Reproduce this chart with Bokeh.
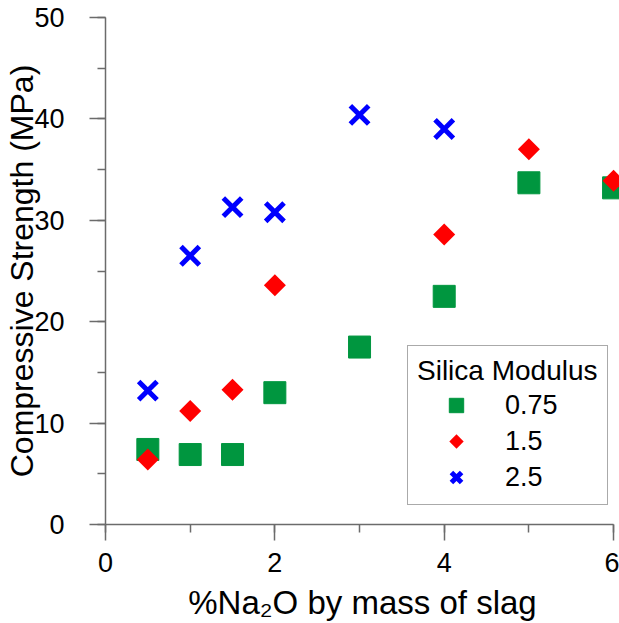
from bokeh.plotting import figure
from bokeh.models import (Range1d, SingleIntervalTicker, Legend, LegendItem,
                          Scatter, CustomJS, ColumnDataSource)
from bokeh.embed import file_html
from bokeh.resources import INLINE

# Compressive strength (MPa) against %Na2O, one series per silica modulus
na2o_075 = [0.5, 1, 1.5, 2, 3, 4, 5, 6]
strength_075 = [7.4, 6.9, 6.9, 13.0, 17.5, 22.5, 33.7, 33.2]

na2o_15 = [0.5, 1, 1.5, 2, 4, 5, 6]
strength_15 = [6.4, 11.2, 13.3, 23.6, 28.6, 37.0, 33.9]

na2o_25 = [0.5, 1, 1.5, 2, 3, 4]
strength_25 = [13.2, 26.5, 31.3, 30.8, 40.4, 39.0]

modulus_labels = ["0.75", "1.5", "2.5"]

FONT = "Liberation Sans"
AXIS_GRAY = "#6b6b6b"
GREEN, RED, BLUE = "#00963f", "#ff0000", "#0000ff"

p = figure(
    width=619, height=623,
    x_range=Range1d(0, 6.07), y_range=Range1d(0, 50),
    output_backend="svg", toolbar_location=None,
    min_border_left=105, min_border_right=0,
    min_border_top=17, min_border_bottom=99,
)
p.outline_line_color = None
p.xgrid.visible = False
p.ygrid.visible = False
p.background_fill_color = "white"
p.border_fill_color = "white"

p.xaxis.ticker = SingleIntervalTicker(interval=2, num_minor_ticks=2)
p.yaxis.ticker = SingleIntervalTicker(interval=10, num_minor_ticks=2)
p.xaxis.bounds = (0, 6)

for ax in (p.xaxis, p.yaxis):
    ax.axis_line_color = AXIS_GRAY
    ax.axis_line_width = 1.5
    ax.major_tick_line_color = AXIS_GRAY
    ax.major_tick_line_width = 1.5
    ax.minor_tick_line_color = AXIS_GRAY
    ax.minor_tick_line_width = 1.5
    ax.major_tick_in = 0
    ax.major_tick_out = 16
    ax.minor_tick_in = 0
    ax.minor_tick_out = 8
    ax.major_label_text_font = FONT
    ax.major_label_text_font_size = "27px"
    ax.major_label_text_color = "black"
    ax.axis_label_text_font = FONT
    ax.axis_label_text_font_style = "normal"
    ax.axis_label_text_color = "black"

p.yaxis.axis_label_text_font_size = "32px"
p.xaxis.axis_label_text_font_size = "33px"
p.yaxis.major_label_standoff = 25
p.yaxis.axis_label_standoff = -9
p.xaxis.major_label_standoff = 12
p.xaxis.axis_label_standoff = 9

p.xaxis.axis_label = "%Na\u2082O by mass of slag"
p.yaxis.axis_label = "Compressive Strength (MPa)"

# Equal-sided diamond marker (a square stood on its corner); drawn the same
# way in the plot and in the legend key.
diamond_js = CustomJS(code="""
export default function(...argv) {
  let ctx = null
  let r = null
  const nums = []
  const visit = (a) => {
    if (a == null) return
    if (typeof a === "number") { nums.push(a); return }
    if (typeof a !== "object") return
    if (typeof a.moveTo === "function") { if (ctx == null) ctx = a; return }
    if (a.ctx != null && typeof a.ctx.moveTo === "function" && ctx == null) ctx = a.ctx
    if (typeof a.r === "number" && r == null) r = a.r
  }
  for (const a of argv) visit(a)
  if (r == null && nums.length > 0) r = nums[nums.length > 1 ? 1 : 0]
  if (ctx == null || r == null) return
  ctx.beginPath()
  ctx.moveTo(0, -r)
  ctx.lineTo(r, 0)
  ctx.lineTo(0, r)
  ctx.lineTo(-r, 0)
  ctx.closePath()
  ctx.fillStyle = "#ff0000"
  ctx.fill()
}
""")

r075 = p.scatter(na2o_075, strength_075, marker="square", size=22,
                 fill_color=GREEN, line_color=GREEN)
src_15 = ColumnDataSource(data=dict(x=na2o_15, y=strength_15))
r15 = p.add_glyph(src_15, Scatter(x="x", y="y", marker="@sqdiamond", size=22,
                                  fill_color=RED, line_color=None,
                                  defs={"@sqdiamond": diamond_js}))
r25 = p.scatter(na2o_25, strength_25, marker="x", size=26, line_width=5,
                line_color=BLUE)

legend = Legend(
    items=[
        LegendItem(label=modulus_labels[0], renderers=[r075]),
        LegendItem(label=modulus_labels[1], renderers=[r15]),
        LegendItem(label=modulus_labels[2], renderers=[r25]),
    ],
    location=(302, 19),
    title="Silica Modulus",
)
legend.title_text_font = FONT
legend.title_text_font_size = "28px"
legend.title_text_font_style = "normal"
legend.title_text_color = "black"
legend.title_standoff = 0
legend.label_text_font = FONT
legend.label_text_font_size = "27px"
legend.label_text_color = "black"
legend.glyph_width = 78
legend.glyph_height = 36
legend.label_height = 36
legend.label_standoff = 10
legend.padding = 9
legend.spacing = 0
legend.margin = 0
legend.border_line_color = "#555555"
legend.border_line_width = 1.5
legend.background_fill_color = "white"
legend.background_fill_alpha = 1.0
p.add_layout(legend)

open("out.html", "w").write(file_html(p, INLINE))
